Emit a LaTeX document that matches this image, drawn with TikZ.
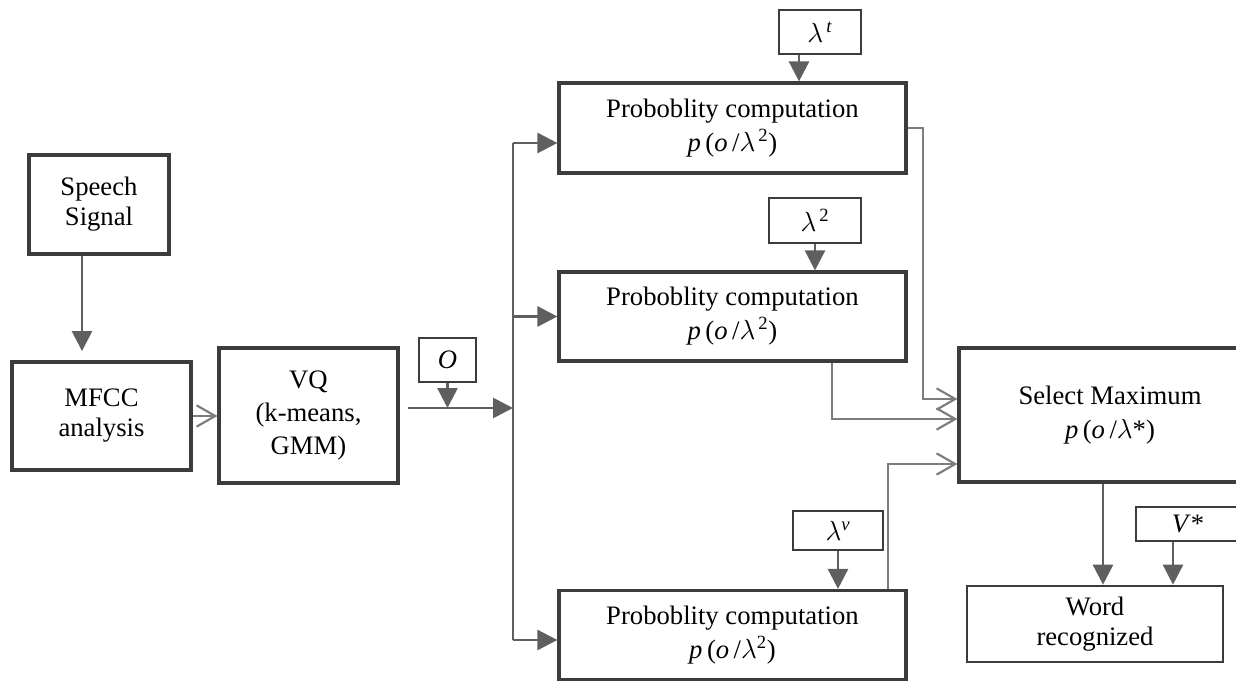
\documentclass[tikz,border=0pt]{standalone}
\usepackage{fontspec}
\setmainfont{Liberation Serif}
\usetikzlibrary{arrows.meta}

\definecolor{boxgray}{RGB}{60,60,60}
\definecolor{linegray}{RGB}{95,95,95}
\definecolor{opengray}{RGB}{125,125,125}

\tikzset{every picture/.style={line width=0.75pt}}
\tikzset{
  blockbox/.style={draw=boxgray, line width=2.4pt, fill=white, inner sep=0pt, align=center,
    font=\fontsize{20}{22.5}\selectfont},
  parambox/.style={blockbox, line width=2pt},
  fillarrow/.style={draw=linegray, line width=2pt, -{Triangle[length=15pt,width=15pt]}},
  openarrow/.style={draw=opengray, line width=1.6pt,
    -{Straight Barb[length=14pt,width=16pt,line width=1.6pt]}},
  busline/.style={draw=linegray, line width=2pt},
}

\newcommand{\lam}{$\lambda$}
\newcommand{\probof}[1]{\textit{p}\,(\textit{o}\,/\lam#1)}

\begin{document}
\begin{tikzpicture}[x=0.75pt,y=0.75pt,yscale=-1,xscale=1]
	\useasboundingbox (0,0) rectangle (1236,681);

	% Text Node
	\node[blockbox, minimum width=105pt, minimum height=74.25pt] (speech) at (99,204.5) {Speech\\Signal};
	% Text Node
	\node[blockbox, minimum width=134.25pt, minimum height=81pt] (mfcc) at (101.5,416) {MFCC\\analysis};
	% Text Node
	\node[blockbox, minimum width=134.25pt, minimum height=101.25pt] (vq) at (308.5,415.5) {VQ\\[2pt](k-means,\\[2pt]GMM)};
	% Text Node
	\node[parambox, minimum width=42.75pt, minimum height=33pt] (obs) at (447.5,360) {\textit{O}};

	% Text Node
	\node[blockbox, minimum width=260.25pt, minimum height=67.5pt] (probt) at (732.5,128) {Proboblity computation\\[3pt]\probof{\textsuperscript{\,2}}};
	% Text Node
	\node[parambox, minimum width=61.5pt, minimum height=33pt] (lamt) at (820,32) {\lam\textsuperscript{\,\textit{t}}};
	% Text Node
	\node[blockbox, minimum width=260.25pt, minimum height=66.75pt] (probm) at (732.5,316.5) {Proboblity computation\\[3pt]\probof{\textsuperscript{\,2}}};
	% Text Node
	\node[parambox, minimum width=69pt, minimum height=33.75pt] (lam2) at (815,220.5) {\lam\textsuperscript{\,2}};
	% Text Node
	\node[blockbox, minimum width=260.25pt, minimum height=66.75pt] (probv) at (732.5,635) {Proboblity computation\\[3pt]\probof{\textsuperscript{2}}};
	% Text Node
	\node[parambox, minimum width=67.5pt, minimum height=29.25pt] (lamv) at (838,530.5) {\lam\textsuperscript{\textit{v}}};

	% Text Node
	\node[blockbox, minimum width=226.5pt, minimum height=100.5pt] (selmax) at (1110,415) {Select Maximum\\[3pt]\probof{*}};
	% Text Node
	\node[parambox, minimum width=192pt, minimum height=57pt] (word) at (1095,624) {Word\\recognized};
	% Text Node
	\node[parambox, minimum width=78pt, minimum height=25.5pt] (vstar) at (1188,524) {\textit{V}*};

	% bends and junctions
	\coordinate (cp) at (82,0);
	\coordinate (jn) at (513,408);
	\coordinate (bt) at (513,143);
	\coordinate (bb) at (513,640);
	\coordinate (tx) at (799,0);
	\coordinate (ct) at (923,399);
	\coordinate (cm) at (832,419);
	\coordinate (cv) at (888,464);
	\coordinate (cs) at (1103,0);
	\coordinate (cw) at (1173,0);

	%Straight Lines
	\draw[fillarrow, shorten >=7pt] (speech.south -| cp) -- (mfcc.north -| cp);
	\draw[openarrow] (mfcc.east) -- (vq.west |- mfcc.east);
	\draw[fillarrow, shorten <=6pt] (vq.east |- jn) -- (jn);
	\draw[fillarrow] (obs.south) -- (obs.south |- jn);

	%Bus to the three computations
	\draw[busline] (bt) -- (bb);
	\draw[fillarrow] (bt) -- (bt -| probt.west);
	\draw[fillarrow] (jn |- probm.west) -- (probm.west);
	\draw[fillarrow] (bb) -- (bb -| probv.west);

	%Model inputs
	\draw[fillarrow] (lamt.south -| tx) -- (probt.north -| tx);
	\draw[fillarrow] (lam2.south) -- (probm.north -| lam2.south);
	\draw[fillarrow] (lamv.south) -- (probv.north -| lamv.south);

	%To select maximum
	\draw[openarrow] (probt.east) -- (ct |- probt.east) -- (ct) -- (ct -| selmax.west);
	\draw[openarrow] (probm.south -| cm) -- (cm) -- (cm -| selmax.west);
	\draw[openarrow] (probv.north -| cv) -- (cv) -- (cv -| selmax.west);

	%Output
	\draw[fillarrow] (selmax.south -| cs) -- (word.north -| cs);
	\draw[fillarrow] (vstar.south -| cw) -- (word.north -| cw);

\end{tikzpicture}
\end{document}
